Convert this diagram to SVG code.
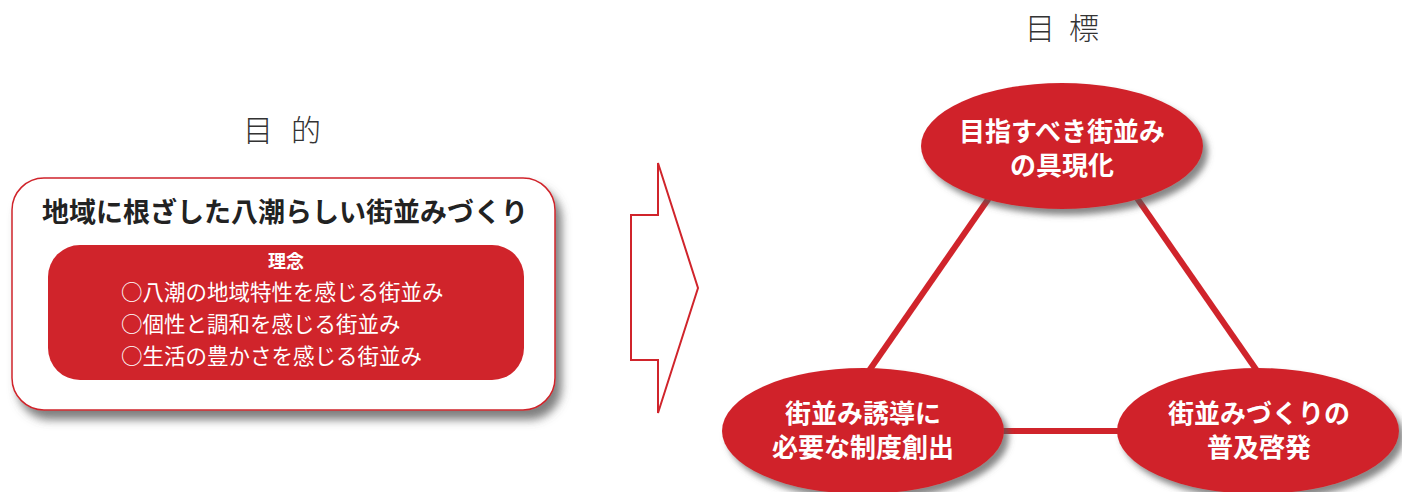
<svg xmlns="http://www.w3.org/2000/svg" width="1402" height="492" viewBox="0 0 1402 492">
<defs>
<style>
.jp{font-family:"Noto Sans CJK JP","Noto Sans CJK SC",sans-serif;}
.head{font-size:30px;fill:#333;font-weight:300;text-anchor:middle;}
.title{font-size:27px;font-weight:bold;fill:#222;text-anchor:middle;}
.wt{fill:#fff;}
.nodeT{font-size:26px;font-weight:bold;fill:#fff;text-anchor:middle;}
.red{fill:#d0242b;}
.link{stroke:#d0242b;stroke-width:6;fill:none;}
</style>
<filter id="sh" x="-20%" y="-20%" width="150%" height="160%">
<feDropShadow dx="6" dy="9" stdDeviation="5" flood-color="#555" flood-opacity="0.75"/>
</filter>
<filter id="sh2" x="-20%" y="-20%" width="150%" height="160%">
<feDropShadow dx="5" dy="6" stdDeviation="3" flood-color="#555" flood-opacity="0.7"/>
</filter>
</defs>
<rect width="1402" height="492" fill="#fff"/>

<g id="purpose-label" class="jp">
<text class="head" x="258" y="141">目</text>
<text class="head" x="306" y="141">的</text>
</g>
<g id="goal-label" class="jp">
<text class="head" x="1040" y="39">目</text>
<text class="head" x="1084" y="39">標</text>
</g>

<g id="purpose">
<rect x="12" y="178" width="543" height="232" rx="32" fill="#fff" stroke="#d0242b" stroke-width="1.5" filter="url(#sh)"/>
<text class="jp title" x="285" y="222">地域に根ざした八潮らしい街並みづくり</text>
<rect x="48" y="245" width="476" height="135" rx="32" class="red"/>
<text class="jp wt" x="286" y="268" font-size="18" font-weight="bold" text-anchor="middle">理念</text>
<text class="jp wt" x="121" y="300" font-size="21.5">○八潮の地域特性を感じる街並み</text>
<text class="jp wt" x="121" y="332" font-size="21.5">○個性と調和を感じる街並み</text>
<text class="jp wt" x="121" y="364" font-size="21.5">○生活の豊かさを感じる街並み</text>
</g>

<g id="arrow">
<polygon points="658,163 658,215 631,215 631,360 658,360 658,413 698,288" fill="#fff" stroke="#d0242b" stroke-width="2" stroke-linejoin="miter"/>
</g>

<g id="connectors">
<line class="link" x1="996" y1="188" x2="864" y2="378"/>
<line class="link" x1="1130" y1="188" x2="1262" y2="378"/>
<line class="link" x1="990" y1="431" x2="1130" y2="431"/>
</g>

<g id="goal-top">
<ellipse cx="1062" cy="146" rx="141" ry="63" class="red" filter="url(#sh2)"/>
<text class="jp nodeT" x="1062" y="141">目指すべき街並み<tspan x="1062" dy="34">の具現化</tspan></text>
</g>
<g id="goal-left">
<ellipse cx="863" cy="431" rx="141" ry="63" class="red" filter="url(#sh2)"/>
<text class="jp nodeT" x="863" y="423">街並み誘導に<tspan x="863" dy="34">必要な制度創出</tspan></text>
</g>
<g id="goal-right">
<ellipse cx="1258" cy="431" rx="141" ry="63" class="red" filter="url(#sh2)"/>
<text class="jp nodeT" x="1259" y="423">街並みづくりの<tspan x="1259" dy="34">普及啓発</tspan></text>
</g>
</svg>
